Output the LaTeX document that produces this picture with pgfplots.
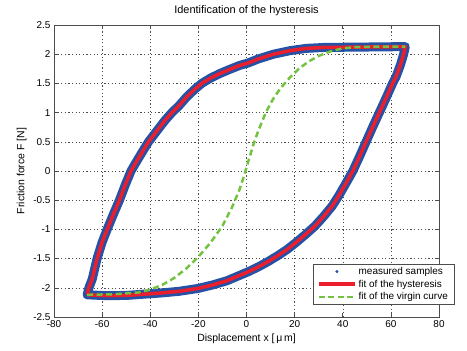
\documentclass[border=0pt]{standalone}
\usepackage{pgfplots}
\pgfplotsset{compat=1.18}
\usepackage{pgfplotstable}
\usepackage{fontspec}
\setmainfont{Liberation Sans}
\definecolor{sampblue}{RGB}{38,82,165}
\definecolor{fitred}{RGB}{235,30,45}
\definecolor{virggreen}{RGB}{115,195,65}

\pgfplotstableread{
x y
-66.2 -2.12
-65.5 -2.00
-64.1 -1.85
-62.1 -1.50
-60.0 -1.22
-57.9 -1.00
-55.3 -0.74
-52.8 -0.50
-50.4 -0.24
-48.0 0.00
-45.3 0.19
-42.8 0.36
-40.7 0.50
-37.0 0.70
-34.0 0.86
-31.0 1.00
-28.0 1.12
-24.8 1.27
-21.5 1.40
-18.6 1.50
-15.0 1.59
-11.0 1.67
-7.0 1.74
-2.7 1.81
0.7 1.85
5.0 1.92
11.2 2.00
18.0 2.06
24.9 2.10
32.0 2.115
42.8 2.12
55.0 2.125
66.0 2.13
65.3 2.00
64.0 1.82
62.2 1.62
60.7 1.50
58.0 1.25
55.2 1.00
52.4 0.75
49.7 0.50
47.0 0.25
44.2 0.00
41.2 -0.22
38.4 -0.42
35.6 -0.60
32.0 -0.78
28.5 -0.94
25.0 -1.07
21.0 -1.21
17.0 -1.34
13.0 -1.45
9.0 -1.55
5.0 -1.64
1.0 -1.72
-3.0 -1.79
-8.2 -1.88
-14.0 -1.95
-20.0 -2.01
-28.0 -2.06
-35.9 -2.09
-43.0 -2.11
-49.6 -2.13
-58.0 -2.135
-66.2 -2.12
}\loopdata

\pgfplotstableread{
x y
-66.2 -2.12
-55 -2.11
-45 -2.08
-40 -2.03
-35 -1.95
-30 -1.83
-25 -1.67
-20 -1.47
-15 -1.23
-10 -0.94
-6 -0.62
-3 -0.33
-1 -0.08
1 0.20
3 0.47
5 0.70
8 1.00
11 1.23
14 1.41
18 1.60
22 1.76
26 1.88
30 1.97
35 2.05
40 2.10
45 2.12
55 2.13
66 2.13
}\virgin

\begin{document}
\begin{tikzpicture}
\useasboundingbox (0,0) rectangle (467bp,351bp);
\begin{axis}[
  at={(54bp,34bp)}, anchor=south west,
  scale only axis, width=385bp, height=292bp,
  xmin=-80, xmax=80, ymin=-2.5, ymax=2.5,
  xtick={-80,-60,...,80},
  ytick={-2.5,-2,...,2.5},
  /pgf/number format/assume math mode=true,
  tick label style={font=\fontsize{10}{12}\selectfont},
  label style={font=\fontsize{10.5}{12}\selectfont},
  title style={font=\fontsize{11}{13}\selectfont},
  title={Identification of the hysteresis},
  xlabel={Displacement x [\,μ\,m]},
  ylabel={Friction force F [N]},
  axis line style={gray!60!black, line width=0.8bp},
  tick style={gray!60!black, line width=0.6bp},
  tick align=inside, major tick length=4bp,
  grid=major,
  major grid style={black!70, line width=0.5bp, dash pattern=on 1.2bp off 2.4bp},
  legend style={at={(0.6727,0.1815)}, anchor=north west, draw=gray!60!black, fill=white,
    font=\fontsize{10}{12}\selectfont, inner xsep=4bp, inner ysep=1bp},
  legend cell align=left,
  legend image code/.code={\draw[#1] (0bp,0bp) -- (36bp,0bp);},
]
\addlegendimage{legend image code/.code={\fill[sampblue] (18bp,0bp) circle (1.3bp);}}
\addlegendentry{measured samples}
\addlegendimage{fitred, line width=3.5bp}
\addlegendentry{fit of the hysteresis}
\addlegendimage{virggreen, line width=2.5bp, dash pattern=on 6bp off 3.5bp}
\addlegendentry{fit of the virgin curve}
\addplot[sampblue, line width=9bp, line join=round, line cap=round, forget plot] table[x=x,y=y] {\loopdata};
\addplot[fitred, line width=3.5bp, line join=round, forget plot] table[x=x,y=y] {\loopdata};
\addplot[virggreen, line width=2.5bp, dash pattern=on 6bp off 3.5bp, forget plot] table[x=x,y=y] {\virgin};
\end{axis}
\end{tikzpicture}
\end{document}
